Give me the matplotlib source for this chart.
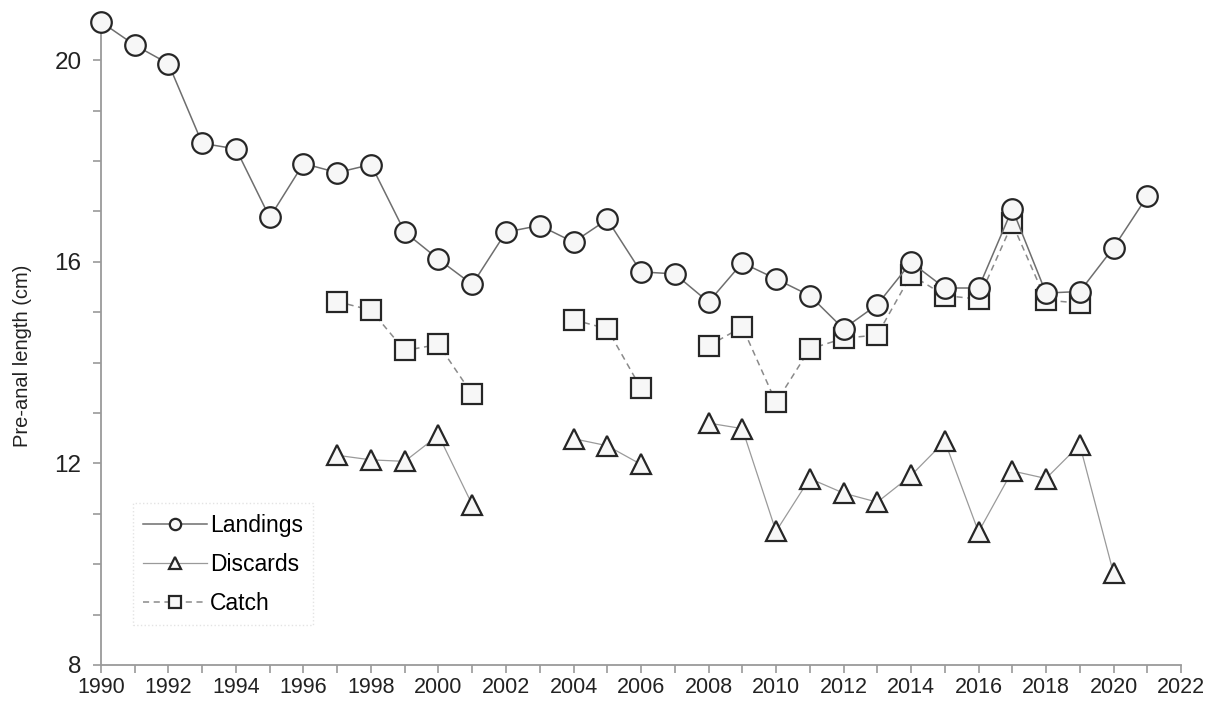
import matplotlib
matplotlib.use("Agg")
import matplotlib.pyplot as plt
import numpy as np
from matplotlib.ticker import MultipleLocator

plt.rcParams['font.family'] = ['Liberation Sans', 'DejaVu Sans']

landings_years = list(range(1990, 2022))
landings = [20.76, 20.30, 19.93, 18.35, 18.24, 16.88, 17.95, 17.77, 17.93, 16.59,
            16.05, 15.55, 16.59, 16.72, 16.39, 16.84, 15.80, 15.76, 15.20, 15.98,
            15.66, 15.33, 14.67, 15.15, 15.99, 15.48, 15.48, 17.05, 15.38, 15.41,
            16.28, 17.30]

discards_years = [1997, 1998, 1999, 2000, 2001, None, 2004, 2005, 2006, None,
                  2008, 2009, 2010, 2011, 2012, 2013, 2014, 2015, 2016, 2017,
                  2018, 2019, 2020]
discards = [12.16, 12.07, 12.04, 12.56, 11.18, None, 12.49, 12.35, 11.98, None,
            12.80, 12.69, 10.65, 11.70, 11.41, 11.23, 11.76, 12.44, 10.64, 11.85,
            11.70, 12.37, 9.82]

catch_years = [1997, 1998, 1999, 2000, 2001, None, 2004, 2005, 2006, None,
               2008, 2009, 2010, 2011, 2012, 2013, 2014, 2015, 2016, 2017,
               2018, 2019]
catch = [15.21, 15.04, 14.24, 14.36, 13.37, None, 14.85, 14.67, 13.49, None,
         14.33, 14.71, 13.21, 14.27, 14.48, 14.55, 15.74, 15.33, 15.26, 16.76,
         15.24, 15.18]

series_names = ["Landings", "Discards", "Catch"]


def to_arr(v):
    return np.array([np.nan if x is None else x for x in v], dtype=float)


fig = plt.figure(figsize=(12.24, 7.09), dpi=100)
ax = fig.add_axes([0.0825, 0.0621, 0.8824, 0.907])

edge = '#262626'
face = '#f7f7f7'

h_catch, = ax.plot(to_arr(catch_years), to_arr(catch), color='#8a8a8a', lw=1.1,
                   ls=(0, (4, 3)), marker='s', ms=14.5, mfc=face, mec=edge, mew=1.6,
                   clip_on=False, label=series_names[2], zorder=3)
h_disc, = ax.plot(to_arr(discards_years), to_arr(discards), color='#9a9a9a', lw=0.9,
                  ls='-', marker='^', ms=15, mfc=face, mec=edge, mew=1.6,
                  clip_on=False, label=series_names[1], zorder=3)
h_land, = ax.plot(landings_years, landings, color='#6e6e6e', lw=1.1, ls='-',
                  marker='o', ms=14.8, mfc=face, mec=edge, mew=1.6, clip_on=False,
                  label=series_names[0], zorder=4)

ax.set_xlim(1990, 2022)
ax.set_ylim(8, 20.76)
ax.xaxis.set_major_locator(MultipleLocator(2))
ax.xaxis.set_minor_locator(MultipleLocator(1))
ax.yaxis.set_major_locator(MultipleLocator(4))
ax.yaxis.set_minor_locator(MultipleLocator(1))

for s in ['top', 'right']:
    ax.spines[s].set_visible(False)
for s in ['left', 'bottom']:
    ax.spines[s].set_color('#9a9a9a')
    ax.spines[s].set_linewidth(1.3)

ax.tick_params(axis='both', which='both', direction='out', color='#9a9a9a',
               width=1.2, length=6)
ax.tick_params(axis='x', which='major', labelsize=15.5, labelcolor='#222222', pad=3)
ax.tick_params(axis='y', which='major', labelsize=17.5, labelcolor='#222222', pad=8)

ax.set_ylabel("Pre-anal length (cm)", fontsize=14.5, color='#222222')
ax.yaxis.set_label_coords(-0.064, 0.48)

leg = ax.legend([h_land, h_disc, h_catch], series_names,
                loc='lower left', bbox_to_anchor=(0.0296, 0.062), borderaxespad=0,
                fontsize=16.5, markerscale=0.55, handlelength=2.8, handletextpad=0.1,
                labelspacing=0.7, borderpad=0.45, frameon=True, fancybox=False)
fr = leg.get_frame()
fr.set_edgecolor('#dddddd')
fr.set_linestyle(':')
fr.set_linewidth(1.0)

fig.savefig("out.png", dpi=100, facecolor='white')
